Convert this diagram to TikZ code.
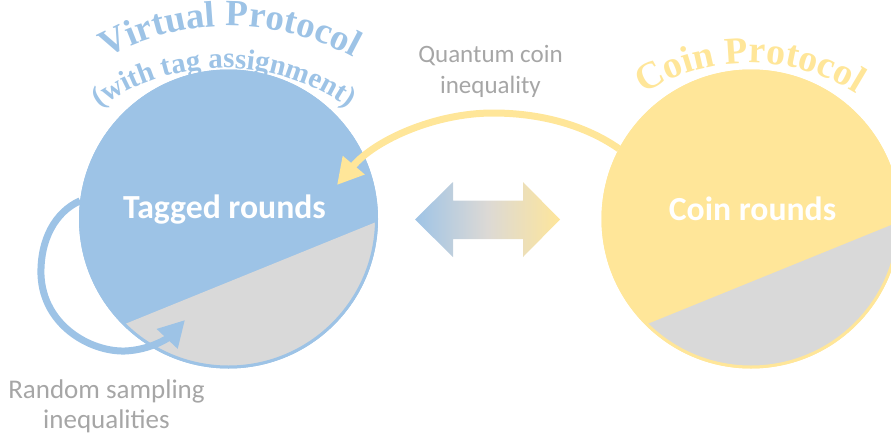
\documentclass[tikz,border=0pt]{standalone}
\usepackage{fontspec}
\setmainfont{Carlito}
\newfontfamily\serifb{Liberation Serif}
\usetikzlibrary{arrows.meta,decorations.text}
\definecolor{pblue}{HTML}{9DC3E6}
\definecolor{pyellow}{HTML}{FFE699}
\definecolor{pgray}{HTML}{D9D9D9}
\definecolor{lblgray}{HTML}{A6A6A6}
\definecolor{midgray}{HTML}{DCD9D5}
\newcommand\vtitlefont{\serifb\bfseries\fontsize{37}{37}\selectfont}
\newcommand\vsubfont{\serifb\bfseries\fontsize{29}{29}\selectfont}
\newcommand\ctitlefont{\serifb\bfseries\fontsize{38}{38}\selectfont}
\begin{document}
\begin{tikzpicture}[x=1pt,y=-1pt,
  disc/.style={circle, inner sep=0pt, minimum size=296pt, fill=#1, draw=#1, line width=3pt},
  rim/.style={draw=#1, line width=3pt},
  bigarrow/.style={line width=7pt, draw=#1, -{Triangle[length=26pt,width=27pt]}},
  lbl/.style={text=lblgray, align=center, font=\fontsize{25}{31}\selectfont},
  lblb/.style={text=lblgray, align=center, font=\fontsize{27}{30}\selectfont},
  inlbl/.style={text=white, font=\bfseries\fontsize{33.7}{40}\selectfont},
]
\useasboundingbox (0,0) rectangle (891,439);
% circles
\node[disc=pblue] (vcirc) at (228.5,219) {};
\node[disc=pyellow] (ccirc) at (751,219) {};
\fill[pgray] ([shift={(1.2:147.5)}]vcirc.center) arc[start angle=1.2, end angle=134.6, radius=147.5] -- cycle;
\fill[pgray] ([shift={(1.2:147.5)}]ccirc.center) arc[start angle=1.2, end angle=134.6, radius=147.5] -- cycle;
\draw[rim=pblue] (vcirc.center) circle[radius=148];
\draw[rim=pyellow] (ccirc.center) circle[radius=148];
% double arrow
\begin{scope}
\clip (415,219.5) -- (453,182) -- (453,200.5) -- (523,200.5) -- (523,182) -- (560,219.5)
  -- (523,257) -- (523,239) -- (453,239) -- (453,257) -- cycle;
\shade[left color=pblue, right color=pyellow, middle color=midgray] (413,176) rectangle (562,262);
\end{scope}
% connectors
\coordinate (qtip) at (337,185);
\coordinate (rtip) at (185,320);
\draw[bigarrow=pyellow] (ccirc.152) .. controls (585,125) and (540,113) .. (493,113)
  .. controls (435,113) and (375,140) .. (qtip);
\draw[bigarrow=pblue] (vcirc.173) .. controls (55,212) and (40,240) .. (41,275)
  .. controls (43,325) and (90,352) .. (125,351)
  .. controls (150,350) and (168,338) .. (rtip);
% texts
\node[inlbl, anchor=base] (tagged) at (224.5,218) {Tagged rounds};
\node[inlbl, anchor=base] (coinr) at (752.5,220) {Coin rounds};
\node[lbl, anchor=base] (qci) at (490.5,93) {Quantum coin\\inequality};
\node[lblb, anchor=base] (rsi) at (106.5,428) {Random sampling\\inequalities};
% titles
\coordinate (vpc) at (230,282);
\coordinate (vsc) at (224,283);
\coordinate (cpc) at (750,263);
\path[decorate, decoration={text along path, text align=center, text color=pblue,
  text={|\vtitlefont|Virtual Protocol}}]
  ([shift={(-130:256)}]vpc) arc[start angle=-130, end angle=-50, radius=256];
\path[decorate, decoration={text along path, text align=center, text color=pblue,
  text={|\vsubfont|(with tag assignment)}}]
  ([shift={(-130:215)}]vsc) arc[start angle=-130, end angle=-50, radius=215];
\path[decorate, decoration={text along path, text align=center, text color=pyellow,
  text={|\ctitlefont|Coin Protocol}}]
  ([shift={(-130:200)}]cpc) arc[start angle=-130, end angle=-50, radius=200];
\end{tikzpicture}
\end{document}
